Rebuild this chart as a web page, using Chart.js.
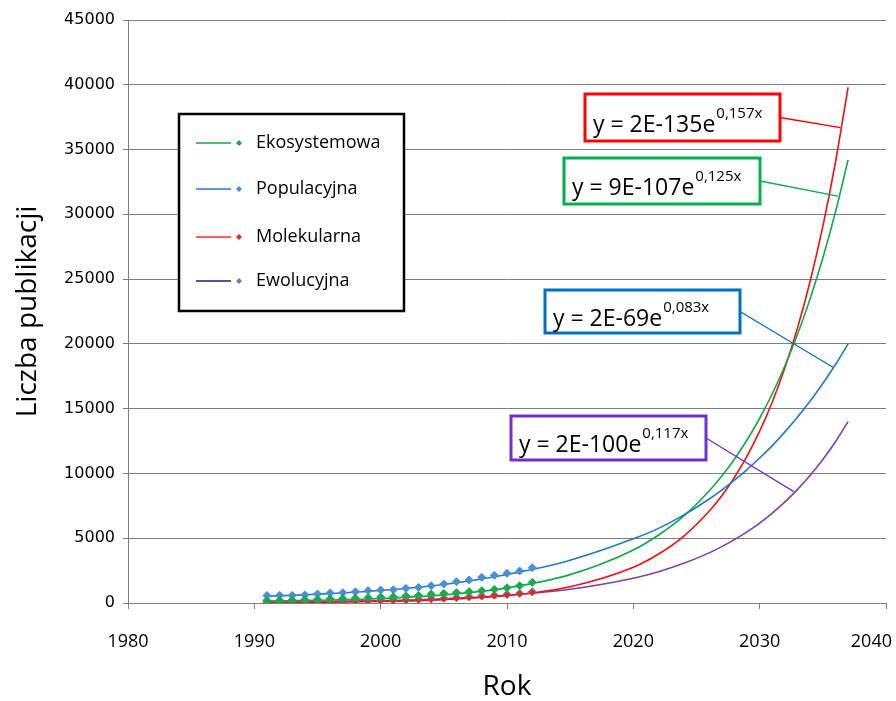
<!DOCTYPE html>
<html>
<head>
<meta charset="utf-8">
<script src="https://cdn.jsdelivr.net/npm/chart.js@4.4.0/dist/chart.umd.min.js"></script>
<style>
  html, body { margin: 0; padding: 0; background: #fff; }
  #wrap { width: 896px; height: 701px; }
</style>
</head>
<body>
<div id="wrap"><canvas id="chart"></canvas></div>
<script>
// measured data, one point per year
const years = [1991, 1992, 1993, 1994, 1995, 1996, 1997, 1998, 1999, 2000, 2001,
  2002, 2003, 2004, 2005, 2006, 2007, 2008, 2009, 2010, 2011, 2012];
const ekosystemowa = [200, 210, 230, 260, 290, 320, 350, 380, 420, 460, 490,
  540, 590, 695, 745, 800, 875, 950, 1055, 1180, 1335, 1595];
const populacyjna = [580, 590, 580, 620, 700, 780, 800, 860, 960, 1000, 1020,
  1130, 1210, 1335, 1470, 1645, 1775, 1980, 2135, 2290, 2470, 2725];
const molekularna = [20, 25, 30, 40, 60, 80, 100, 120, 140, 160, 180,
  210, 240, 280, 320, 370, 430, 480, 540, 610, 700, 800];
const ewolucyjna = [80, 90, 100, 110, 130, 150, 170, 190, 200, 215, 220,
  230, 280, 320, 360, 420, 490, 565, 610, 670, 745, 875];

// trend lines
const trendYears = [1991, 1995, 2000, 2005, 2010, 2015, 2020, 2022, 2024, 2026, 2027,
  2028, 2029, 2030, 2031, 2032, 2033, 2034, 2035, 2036, 2037];
const ekoTrend = [150, 210, 350, 630, 1170, 2190, 4090, 5250, 6730, 8650, 9800,
  11100, 12580, 14260, 16150, 18310, 20740, 23510, 26630, 30180, 34200];
const popTrend = [520, 680, 960, 1430, 2200, 3300, 4950, 5760, 6800, 8030, 8720,
  9480, 10300, 11190, 12150, 13210, 14350, 15590, 16940, 18410, 20000];
const molTrend = [29, 54, 119, 262, 574, 1258, 2760, 3780, 5170, 7080, 8280,
  9690, 11340, 13260, 15520, 18150, 21240, 24850, 29070, 34020, 39800];
const ewoTrend = [64, 103, 185, 331, 595, 1067, 1915, 2420, 3060, 3870, 4350,
  4890, 5490, 6170, 6940, 7800, 8770, 9860, 11080, 12450, 14000];

const xTicks = [1980, 1990, 2000, 2010, 2020, 2030, 2040];

// trend equations and where their leader lines meet the curves
const equations = [
  { text: "y = 2E-135e", sup: "0,157x", target: [2036.4, 36700] },
  { text: "y = 9E-107e", sup: "0,125x", target: [2036.2, 31400] },
  { text: "y = 2E-69e", sup: "0,083x", target: [2035.8, 18200] },
  { text: "y = 2E-100e", sup: "0,117x", target: [2032.7, 8600] },
];

const eqColors = ["#ff0000", "#00b050", "#0070c0", "#7030d0"];
const eqBoxes = [[585, 94, 195, 47], [564, 158, 196, 46], [545, 290, 195, 43], [511, 416, 195, 44]];

const pts = (xs, ys) => xs.map((x, i) => ({ x: x, y: ys[i] }));

function trend(label, data, color) {
  return {
    label: label, data: data, borderColor: color, borderWidth: 1.6,
    pointRadius: 0, showLine: true, fill: false,
    cubicInterpolationMode: "monotone",
  };
}
function markers(label, data, color, r) {
  return {
    label: label, data: data, backgroundColor: color, borderColor: color,
    pointStyle: "rectRot", pointRadius: r, pointHoverRadius: r, showLine: false,
  };
}

const series = [
  { label: "Ekosystemowa", line: "#14a84a", marker: "#1aaa50" },
  { label: "Populacyjna", line: "#2279c4", marker: "#4a8ed6" },
  { label: "Molekularna", line: "#ff2a2a", marker: "#d9301c" },
  { label: "Ewolucyjna", line: "#1f1c66", marker: "#8a6ab0" },
];

// legend in a black frame inside the plot
const boxLegend = {
  id: "boxLegend",
  afterDraw(chart) {
    const ctx = chart.ctx;
    ctx.save();
    ctx.fillStyle = "#fff";
    ctx.fillRect(179, 114, 225, 197);
    ctx.strokeStyle = "#000";
    ctx.lineWidth = 2.5;
    ctx.strokeRect(179, 114, 225, 197);
    const rows = [143, 189, 237, 281];
    ctx.font = '18px "Open Sans"';
    ctx.textBaseline = "middle";
    series.forEach((s, i) => {
      const y = rows[i];
      ctx.strokeStyle = s.line;
      ctx.lineWidth = 1.5;
      ctx.beginPath();
      ctx.moveTo(196, y);
      ctx.lineTo(231, y);
      ctx.stroke();
      ctx.fillStyle = s.marker;
      ctx.beginPath();
      ctx.moveTo(239, y - 3);
      ctx.lineTo(242, y);
      ctx.lineTo(239, y + 3);
      ctx.lineTo(236, y);
      ctx.closePath();
      ctx.fill();
      ctx.fillStyle = "#000";
      ctx.fillText(s.label, 256, y);
    });
    ctx.restore();
  },
};

// equation boxes with leader lines
const eqLabels = {
  id: "eqLabels",
  afterDraw(chart) {
    const ctx = chart.ctx;
    const xs = chart.scales.x, ys = chart.scales.y;
    ctx.save();
    equations.forEach((eq, i) => {
      const [bx, by, bw, bh] = eqBoxes[i];
      const c = eqColors[i];
      const tx = xs.getPixelForValue(eq.target[0]);
      const ty = ys.getPixelForValue(eq.target[1]);
      ctx.strokeStyle = c;
      ctx.lineWidth = 1.3;
      ctx.beginPath();
      ctx.moveTo(bx + bw, by + bh * 0.5);
      ctx.lineTo(tx, ty);
      ctx.stroke();
      ctx.fillStyle = "#fff";
      ctx.fillRect(bx, by, bw, bh);
      ctx.lineWidth = 3;
      ctx.strokeRect(bx, by, bw, bh);
      ctx.fillStyle = "#000";
      ctx.textBaseline = "alphabetic";
      ctx.font = '23px "Open Sans"';
      const base = by + bh * 0.5 + 14;
      ctx.fillText(eq.text, bx + 8, base);
      const w = ctx.measureText(eq.text).width;
      ctx.font = '15px "Open Sans"';
      ctx.fillText(eq.sup, bx + 9 + w, base - 14);
    });
    ctx.restore();
  },
};

// x tick labels, the last one kept inside the canvas
const xLabels = {
  id: "xLabels",
  afterDraw(chart) {
    const ctx = chart.ctx;
    const xs = chart.scales.x;
    ctx.save();
    ctx.font = '18px "Open Sans"';
    ctx.fillStyle = "#000";
    ctx.textBaseline = "middle";
    ctx.textAlign = "center";
    xTicks.forEach((v) => {
      let x = xs.getPixelForValue(v);
      const half = ctx.measureText(String(v)).width / 2;
      if (x + half > chart.width - 4) x = chart.width - 4 - half;
      ctx.fillText(String(v), x, 642);
    });
    ctx.restore();
  },
};

const datasets = [
  markers("Ekosystemowa", pts(years, ekosystemowa), series[0].marker, 4),
  markers("Populacyjna", pts(years, populacyjna), series[1].marker, 4),
  markers("Molekularna", pts(years, molekularna), series[2].marker, 3),
  markers("Ewolucyjna", pts(years, ewolucyjna), series[3].marker, 4),
  trend("Populacyjna trend", pts(trendYears, popTrend), "#2279c4"),
  trend("Ekosystemowa trend", pts(trendYears, ekoTrend), "#14a84a"),
  trend("Molekularna trend", pts(trendYears, molTrend), "#ee1111"),
  trend("Ewolucyjna trend", pts(trendYears, ewoTrend), "#7b3fb0"),
];

new Chart(document.getElementById("chart"), {
  type: "scatter",
  data: { datasets: datasets },
  plugins: [boxLegend, eqLabels, xLabels],
  options: {
    responsive: true,
    maintainAspectRatio: false,
    animation: false,
    layout: { padding: { top: 20, right: 10, left: 0, bottom: 0 } },
    plugins: { legend: { display: false }, tooltip: { enabled: false } },
    scales: {
      x: {
        type: "linear", min: 1980, max: 2040,
        ticks: { display: false, stepSize: 10 },
        grid: { drawOnChartArea: false, drawTicks: true, tickLength: 6, color: "#7f7f7f" },
        border: { color: "#7f7f7f", width: 1 },
        title: {
          display: true, text: "Rok", color: "#000",
          font: { family: "Open Sans", size: 28, lineHeight: 1 }, padding: { top: 0, bottom: 0 },
        },
        afterFit(scale) { scale.height = 98; scale.paddingLeft = 0; scale.paddingRight = 0; },
      },
      y: {
        min: 0, max: 45000,
        ticks: {
          stepSize: 5000, color: "#000", padding: 8,
          font: { family: "DejaVu Sans", size: 16 },
          callback: (v) => String(v),
        },
        grid: { color: "#7f7f7f", tickLength: 5 },
        border: { color: "#7f7f7f", width: 1 },
        title: {
          display: true, text: "Liczba publikacji", color: "#000",
          font: { family: "Open Sans", size: 28, lineHeight: 1.2 }, padding: { top: 11, bottom: 0 },
        },
        afterFit(scale) { scale.width = 128; scale.paddingTop = 0; scale.paddingBottom = 0; },
      },
    },
  },
});
</script>
</body>
</html>
